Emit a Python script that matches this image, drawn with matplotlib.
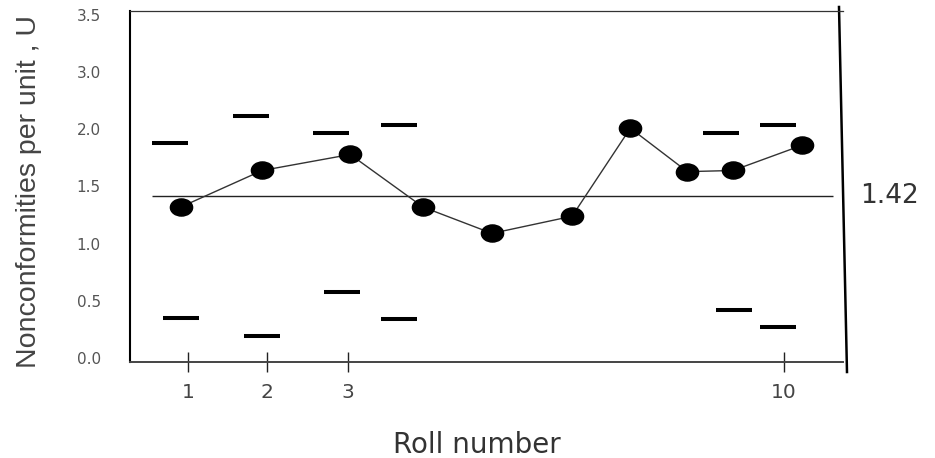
import numpy as np
import matplotlib.pyplot as plt
from matplotlib.path import Path
from matplotlib.transforms import Affine2D

# u-chart: nonconformities per unit for each roll, with per-roll limits
roll_x = [0.89, 2.12, 3.45, 4.55, 5.59, 6.80, 7.68, 8.54, 9.23, 10.27]
u_values = [1.32, 1.64, 1.78, 1.32, 1.09, 1.24, 2.01, 1.63, 1.64, 1.86]
u_bar = 1.42

ucl_x = [0.73, 1.95, 3.16, 4.19, 9.05, 9.91]
ucl_values = [1.88, 2.12, 1.97, 2.04, 1.97, 2.04]
lcl_x = [0.89, 2.12, 3.33, 4.19, 9.25, 9.91]
lcl_values = [0.35, 0.19, 0.58, 0.34, 0.42, 0.27]

xtick_pos = [1.0, 2.19, 3.41, 10.0]
xtick_labels = ['1', '2', '3', '10']
ytick_pos = [0.0, 0.5, 1.0, 1.5, 2.0, 2.5, 3.0]
ytick_labels = ['0.0', '0.5', '1.0', '1.5', '2.0', '3.0', '3.5']
ytick_marks = [0.5, 1.0, 2.0, 2.5]

fig = plt.figure(figsize=(9.35, 4.58), dpi=100)
ax = fig.add_axes([0.139, 0.2096, 0.7626, 0.7664])
ax.set_xlim(0.124, 10.891)
ax.set_ylim(-0.035, 3.035)

# limit bars
half = 0.272
ax.hlines(ucl_values, np.array(ucl_x) - half, np.array(ucl_x) + half,
          colors='black', linewidth=2.9)
ax.hlines(lcl_values, np.array(lcl_x) - half, np.array(lcl_x) + half,
          colors='black', linewidth=2.9)

# center line
ax.hlines(u_bar, 0.46, 10.74, colors='#222222', linewidth=1.0)
ax.text(1.024, u_bar, '1.42', transform=ax.get_yaxis_transform(),
        ha='left', va='center', fontsize=19, color='#333333',
        family='DejaVu Sans')

# slightly flattened round markers
dot = Path.unit_circle().transformed(Affine2D().scale(1.0, 0.77))
ax.plot(roll_x, u_values, color='#333333', linewidth=1.0, zorder=3)
ax.plot(roll_x, u_values, linestyle='none', marker=dot, markersize=16,
        color='black', zorder=4)

# frame
ax.spines['right'].set_visible(False)
ax.spines['left'].set_linewidth(1.5)
ax.spines['left'].set_color('black')
ax.spines['bottom'].set_linewidth(1.4)
ax.spines['bottom'].set_color('#444444')
ax.spines['top'].set_linewidth(0.9)
ax.spines['top'].set_color('#333333')
ax.plot([0.9944, 1.0056], [1.0114, -0.0285], transform=ax.transAxes,
        color='black', linewidth=1.8, clip_on=False)

ax.set_xticks(xtick_pos, xtick_labels)
ax.tick_params(axis='x', direction='inout', length=13.7, width=1.0,
               color='#222222', pad=8, labelsize=14.5, labelcolor='#444444')

ax.set_yticks(ytick_pos, ytick_labels)
ax.set_yticks(ytick_marks, minor=True)
ax.tick_params(axis='y', which='major', length=0, pad=21, labelsize=11,
               labelcolor='#555555')
ax.tick_params(axis='y', which='minor', direction='inout', length=17.3,
               width=1.0, color='#222222')

ax.set_ylabel('Nonconformities per unit , U', fontsize=20.5,
              family='Liberation Sans', color='#444444')
ax.yaxis.set_label_coords(-0.1234, 0.486)
ax.set_xlabel('Roll number', fontsize=20, color='#333333',
              family='DejaVu Sans')
ax.xaxis.set_label_coords(0.487, -0.197)

fig.savefig('out.png', dpi=100)
